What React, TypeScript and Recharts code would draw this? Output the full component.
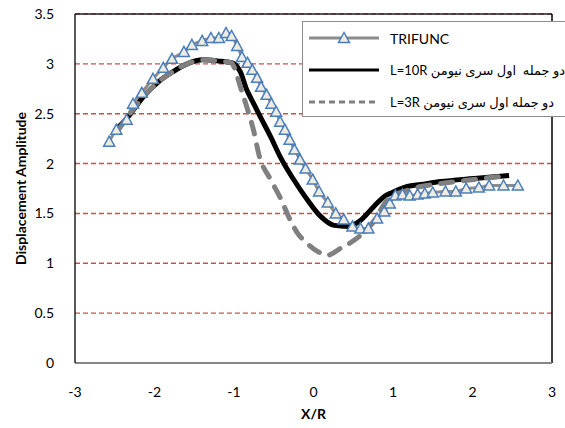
import { LineChart, Line, XAxis, YAxis, CartesianGrid, ReferenceLine, Legend, Label } from 'recharts'

const xTicks = [-3, -2, -1, 0, 1, 2, 3]
const yTicks = [0, 0.5, 1, 1.5, 2, 2.5, 3, 3.5]

const seriesNames = ['TRIFUNC', 'L=10R دو جمله  اول سری نیومن', 'L=3R دو جمله اول سری نیومن']

// TRIFUNC (triangles)
const triX = [-2.57, -2.48, -2.35, -2.27, -2.16, -2.02, -1.89, -1.78, -1.63, -1.53, -1.4, -1.29, -1.19, -1.1, -1.03, -0.96, -0.9, -0.83, -0.77, -0.71, -0.66, -0.59, -0.53, -0.47, -0.42, -0.36, -0.3, -0.24, -0.17, -0.1, -0.01, 0.07, 0.18, 0.28, 0.38, 0.49, 0.59, 0.69, 0.8, 0.89, 0.96, 1.03, 1.12, 1.21, 1.31, 1.4, 1.5, 1.66, 1.79, 1.92, 2.08, 2.21, 2.39, 2.57]
const triY = [2.22, 2.34, 2.44, 2.6, 2.71, 2.85, 2.96, 3.05, 3.12, 3.19, 3.23, 3.26, 3.26, 3.31, 3.28, 3.18, 3.07, 3.01, 2.94, 2.86, 2.77, 2.69, 2.6, 2.52, 2.42, 2.34, 2.24, 2.14, 2.04, 1.95, 1.84, 1.72, 1.61, 1.5, 1.44, 1.37, 1.35, 1.35, 1.45, 1.52, 1.6, 1.68, 1.69, 1.68, 1.69, 1.7, 1.71, 1.72, 1.72, 1.75, 1.76, 1.78, 1.78, 1.78]

// L=10R (solid black)
const l10X = [-2.5, -2.35, -2.14, -1.95, -1.77, -1.59, -1.39, -1.21, -1.02, -0.98, -0.92, -0.84, -0.79, -0.67, -0.54, -0.42, -0.25, -0.08, 0.09, 0.26, 0.43, 0.59, 0.76, 0.89, 0.99, 1.18, 1.35, 1.6, 2.02, 2.46]
const l10Y = [2.33, 2.45, 2.67, 2.82, 2.92, 3.0, 3.04, 3.03, 3.01, 2.99, 2.92, 2.74, 2.66, 2.47, 2.27, 2.07, 1.84, 1.64, 1.47, 1.38, 1.37, 1.43, 1.57, 1.67, 1.71, 1.77, 1.79, 1.82, 1.85, 1.88]

// L=3R (dashed gray)
const l3X = [-2.47, -2.3, -2.14, -1.95, -1.77, -1.59, -1.39, -1.21, -1.03, -1.0, -0.92, -0.84, -0.75, -0.69, -0.54, -0.42, -0.29, -0.19, -0.12, 0.05, 0.17, 0.34, 0.51, 0.68, 0.8, 0.87, 0.97, 1.14, 1.35, 1.6, 2.02, 2.46]
const l3Y = [2.32, 2.51, 2.67, 2.82, 2.92, 3.0, 3.04, 3.03, 3.01, 2.97, 2.77, 2.57, 2.32, 2.1, 1.84, 1.66, 1.43, 1.29, 1.23, 1.12, 1.08, 1.15, 1.23, 1.35, 1.47, 1.57, 1.67, 1.72, 1.77, 1.8, 1.84, 1.88]

const zip = (xs: number[], ys: number[]) => xs.map((x, i) => ({ x, y: ys[i] }))

const triData = zip(triX, triY)
const l10Data = zip(l10X, l10Y)
const l3Data = zip(l3X, l3Y)

const font = 'Lato, "DejaVu Sans", sans-serif'
const triStroke = '#4A7EBB'
const triFill = '#EEECE1'

function TriangleDot(props: any) {
  const { cx, cy, index } = props
  if (cx == null || cy == null) return <g key={index} />
  return (
    <polygon
      key={index}
      points={`${cx},${cy - 5.5} ${cx - 5.5},${cy + 4.5} ${cx + 5.5},${cy + 4.5}`}
      fill={triFill}
      stroke={triStroke}
      strokeWidth={1.5}
    />
  )
}

function LegendBox() {
  const row = { display: 'flex', alignItems: 'center', height: 32 }
  const text = { marginLeft: 7, fontSize: 13, whiteSpace: 'pre' as const, color: '#000' }
  return (
    <div style={{ border: '1px solid #8c8c8c', background: '#fff', width: 280, height: 94, fontFamily: font }}>
      <div style={row}>
        <svg width={76} height={14} style={{ marginLeft: 4 }}>
          <line x1={2} y1={7} x2={72} y2={7} stroke="#8c8c8c" strokeWidth={3} />
          <polygon points="37,1.5 31.5,11.5 42.5,11.5" fill={triFill} stroke={triStroke} strokeWidth={1.5} />
        </svg>
        <span style={{ ...text, fontSize: 14 }}>{seriesNames[0]}</span>
      </div>
      <div style={row}>
        <svg width={76} height={14} style={{ marginLeft: 4 }}>
          <line x1={2} y1={7} x2={72} y2={7} stroke="#000" strokeWidth={3} />
        </svg>
        <span style={text}>{seriesNames[1]}</span>
      </div>
      <div style={row}>
        <svg width={76} height={14} style={{ marginLeft: 4 }}>
          <line x1={2} y1={7} x2={72} y2={7} stroke="#808080" strokeWidth={3} strokeDasharray="6 4" />
        </svg>
        <span style={text}>{seriesNames[2]}</span>
      </div>
    </div>
  )
}

function YTitle(props: any) {
  const vb = props.viewBox || { x: 0, y: 0, height: 0 }
  const cx = vb.x + 20
  const cy = vb.y + vb.height / 2
  return (
    <text x={cx} y={cy} transform={`rotate(-90 ${cx} ${cy})`} textAnchor="middle" dominantBaseline="central"
      fontFamily={font} fontSize={14} fontWeight="bold" fill="#000">
      Displacement Amplitude
    </text>
  )
}

export default function App() {
  return (
    <div style={{ position: 'absolute', left: 0, top: 0, width: 565, height: 428, overflow: 'hidden', background: '#fff' }}>
      <LineChart width={565} height={428} data={triData} margin={{ top: 14, right: 13, bottom: 0, left: 0 }}>
        <CartesianGrid vertical={false} stroke="#C9504D" strokeDasharray="5 3" strokeWidth={1.4} />
        <XAxis
          dataKey="x"
          type="number"
          domain={[-3, 3]}
          ticks={xTicks}
          height={65}
          tickLine={false}
          tickSize={0}
          tickMargin={24}
          axisLine={{ stroke: '#868686', strokeWidth: 2 }}
          tick={{ fontFamily: font, fontSize: 14, fill: '#000' }}
          allowDataOverflow
        >
          <Label value="X/R" position="insideBottom" offset={9} style={{ fontFamily: font, fontSize: 14, fontWeight: 'bold', fill: '#000' }} />
        </XAxis>
        <YAxis
          type="number"
          domain={[0, 3.5]}
          ticks={yTicks}
          width={75}
          tickLine={false}
          tickSize={0}
          tickMargin={21}
          axisLine={{ stroke: '#000', strokeWidth: 1.3 }}
          tick={{ fontFamily: font, fontSize: 14, fill: '#000' }}
        >
          <Label content={<YTitle />} />
        </YAxis>
        <ReferenceLine y={3.5} stroke="#222" strokeWidth={1.3} />
        <ReferenceLine x={3} stroke="#000" strokeWidth={1.5} />
        <Line
          data={triData}
          dataKey="y"
          name={seriesNames[0]}
          type="monotone"
          stroke="#8c8c8c"
          strokeWidth={3}
          dot={<TriangleDot />}
          activeDot={false}
          isAnimationActive={false}
        />
        <Line
          data={l10Data}
          dataKey="y"
          name={seriesNames[1]}
          type="monotone"
          stroke="#000"
          strokeWidth={5}
          dot={false}
          activeDot={false}
          isAnimationActive={false}
        />
        <Line
          data={l3Data}
          dataKey="y"
          name={seriesNames[2]}
          type="monotone"
          stroke="#808080"
          strokeWidth={5}
          strokeDasharray="12 11"
          strokeLinecap="round"
          dot={false}
          activeDot={false}
          isAnimationActive={false}
        />
        <Legend
          layout="vertical"
          align="center"
          verticalAlign="middle"
          content={<LegendBox />}
          wrapperStyle={{ left: 302, top: 21, width: 280, height: 96 }}
        />
      </LineChart>
    </div>
  )
}
